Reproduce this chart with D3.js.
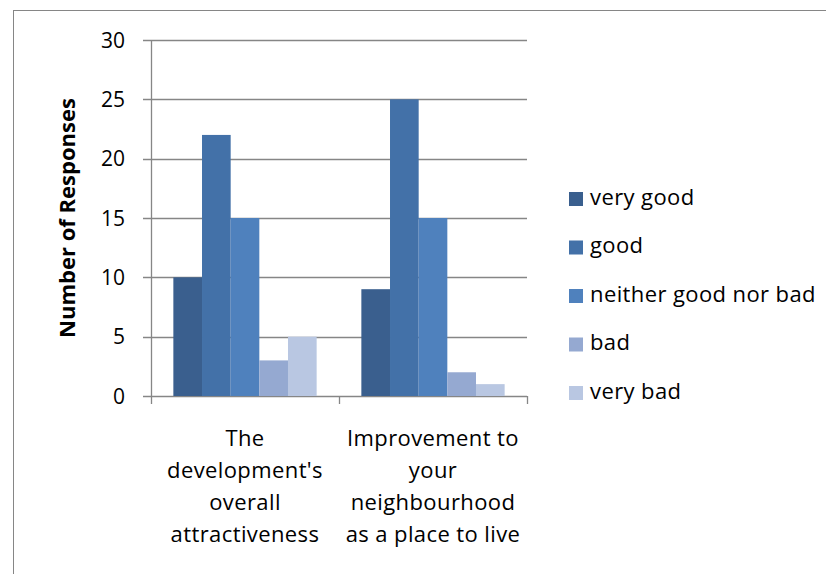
<!DOCTYPE html>
<html>
<head>
<meta charset="utf-8">
<script src="https://cdn.jsdelivr.net/npm/d3@7"></script>
<style>
  body { margin: 0; background: #fff; }
  text { font-family: "Open Sans", sans-serif; fill: #000; }
</style>
</head>
<body>
<div id="chart"></div>
<script>
const categories = [
  ["The", "development's", "overall", "attractiveness"],
  ["Improvement to", "your", "neighbourhood", "as a place to live"]
];
const seriesNames = ["very good", "good", "neither good nor bad", "bad", "very bad"];
const seriesValues = [
  [10, 9],
  [22, 25],
  [15, 15],
  [3, 2],
  [5, 1]
];
const colors = ["#3a5f8e", "#4371a8", "#4f81bd", "#95a9d1", "#b9c7e2"];
const yTicks = [0, 5, 10, 15, 20, 25, 30];

const width = 826, height = 574;
const plot = { left: 151, right: 527, top: 40, bottom: 396 };

const svg = d3.select("#chart").append("svg")
  .attr("width", width).attr("height", height);

// outer chart border
svg.append("rect")
  .attr("x", 13.5).attr("y", 10.5)
  .attr("width", 900).attr("height", 700)
  .attr("fill", "none").attr("stroke", "#868686");

const x0 = d3.scaleBand().domain(d3.range(categories.length))
  .range([plot.left, plot.right]);
const x1 = d3.scaleBand().domain(d3.range(seriesNames.length))
  .range([0, x0.bandwidth()]).paddingOuter(0.78);
const y = d3.scaleLinear().domain([0, 30]).range([plot.bottom, plot.top]);

// gridlines
svg.append("g").selectAll("line")
  .data(yTicks)
  .join("line")
  .attr("x1", plot.left - 8).attr("x2", plot.right)
  .attr("y1", d => Math.round(y(d)) + 0.5).attr("y2", d => Math.round(y(d)) + 0.5)
  .attr("stroke", "#868686").attr("stroke-width", 1.3);

// y tick labels
svg.append("g").selectAll("text")
  .data(yTicks)
  .join("text")
  .attr("x", 125).attr("y", d => y(d))
  .attr("dy", "0.36em")
  .attr("text-anchor", "end")
  .style("font-size", "21px")
  .text(d => d);

// bars
const groups = svg.append("g").selectAll("g")
  .data(categories.map((c, i) => i))
  .join("g")
  .attr("transform", i => `translate(${x0(i)},0)`);

groups.selectAll("rect")
  .data(i => seriesValues.map((vals, s) => ({ s, v: vals[i] })))
  .join("rect")
  .attr("x", d => x1(d.s))
  .attr("width", x1.bandwidth())
  .attr("y", d => y(d.v))
  .attr("height", d => y(0) - y(d.v))
  .attr("fill", d => colors[d.s]);

// y axis line
svg.append("line")
  .attr("x1", plot.left + 0.5).attr("x2", plot.left + 0.5)
  .attr("y1", plot.top).attr("y2", plot.bottom)
  .attr("stroke", "#868686").attr("stroke-width", 1.3);

// category tick marks
svg.append("g").selectAll("line")
  .data([plot.left, x0(1), plot.right])
  .join("line")
  .attr("x1", d => d + 0.5).attr("x2", d => d + 0.5)
  .attr("y1", plot.bottom).attr("y2", plot.bottom + 8)
  .attr("stroke", "#868686").attr("stroke-width", 1.3);

// category labels
svg.append("g").selectAll("text")
  .data(categories)
  .join("text")
  .attr("x", (d, i) => x0(i) + x0.bandwidth() / 2)
  .attr("y", 446)
  .attr("text-anchor", "middle")
  .style("font-size", "22px")
  .style("letter-spacing", "0.4px")
  .selectAll("tspan")
  .data(d => d)
  .join("tspan")
  .attr("x", function () { return this.parentNode.getAttribute("x"); })
  .attr("dy", (d, i) => i === 0 ? 0 : 32)
  .text(d => d);

// axis title
svg.append("text")
  .attr("transform", `translate(75,${(plot.top + plot.bottom) / 2}) rotate(-90)`)
  .attr("text-anchor", "middle")
  .style("font-size", "22px")
  .style("font-weight", "bold")
  .text("Number of Responses");

// legend
const legend = svg.append("g").selectAll("g")
  .data(seriesNames)
  .join("g")
  .attr("transform", (d, i) => `translate(569,${192 + i * 48.5})`);

legend.append("rect")
  .attr("width", 14).attr("height", 14)
  .attr("fill", (d, i) => colors[i]);

legend.append("text")
  .attr("x", 21).attr("y", 7)
  .attr("dy", "0.27em")
  .style("font-size", "22px")
  .style("letter-spacing", "0.4px")
  .text(d => d);
</script>
</body>
</html>
